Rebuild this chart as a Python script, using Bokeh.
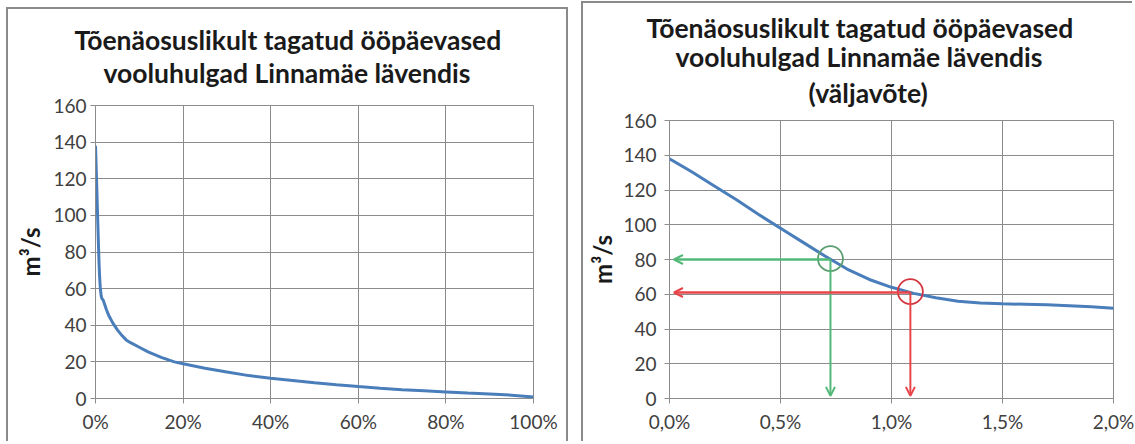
from bokeh.plotting import figure
from bokeh.models import Range1d, FixedTicker, Title, Arrow, OpenHead
from bokeh.layouts import row, column
from bokeh.embed import file_html
from bokeh.resources import INLINE

# ---------------- data ----------------
title_lines_left = ["Tõenäosuslikult tagatud ööpäevased", "vooluhulgad Linnamäe lävendis"]
title_lines_right = ["Tõenäosuslikult tagatud ööpäevased", "vooluhulgad Linnamäe lävendis", "(väljavõte)"]
y_label = "m³/s"

# exceedance probability (%) and daily discharge (m3/s)
prob_pct = [0, 0.1, 0.2, 0.3, 0.4, 0.5, 0.6, 0.7, 0.8, 0.9, 1.0, 1.1, 1.2, 1.3, 1.4,
            1.5, 1.6, 1.7, 1.8, 1.9, 2.0, 2.5, 3, 4, 5, 6, 7, 8, 10, 12, 15, 18, 20,
            25, 30, 35, 40, 45, 50, 55, 60, 65, 70, 75, 80, 85, 90, 95, 100]
discharge = [138, 130.5, 122.5, 114.5, 106, 98, 90, 82, 74.5, 68.5, 64, 60.5, 58, 56, 55,
             54.5, 54.2, 53.9, 53.4, 52.8, 52, 48.5, 45.5, 41, 37.5, 34.5, 32, 30.5, 28, 25.5, 22.5, 20, 19,
             16.5, 14.5, 12.5, 11, 9.8, 8.6, 7.5, 6.5, 5.6, 4.8, 4.2, 3.6, 3.0, 2.5, 1.8, 0.8]

left_x_ticks = [0, 20, 40, 60, 80, 100]
left_x_labels = ["0%", "20%", "40%", "60%", "80%", "100%"]
right_x_ticks = [0, 0.5, 1.0, 1.5, 2.0]
right_x_labels = ["0,0%", "0,5%", "1,0%", "1,5%", "2,0%"]
y_ticks = [0, 20, 40, 60, 80, 100, 120, 140, 160]

# highlighted points (probability %, discharge)
green_point = [0.725, 80]
red_point = [1.085, 61]
arrow_tip_x = 0.02
arrow_tip_y = 1.5

# ---------------- style ----------------
FONT = "Lato"
GRID = "#8c8c8c"
TICK_COLOR = "#404040"
BLUE = "#4A7EBB"
GREEN = "#52b878"
GREEN_DARK = "#5a9e6f"
RED = "#e8454a"
RED_DARK = "#d3373f"


def style(p, xticks, xlabels, label_standoff, axis_label_standoff):
    p.xaxis.ticker = FixedTicker(ticks=xticks)
    p.xaxis.major_label_overrides = {t: l for t, l in zip(xticks, xlabels)}
    p.yaxis.ticker = FixedTicker(ticks=y_ticks)
    for ax in (p.xaxis[0], p.yaxis[0]):
        ax.axis_line_color = GRID
        ax.major_tick_line_color = GRID
        ax.major_tick_out = 5
        ax.major_tick_in = 0
        ax.minor_tick_line_color = None
        ax.major_label_text_font = FONT
        ax.major_label_text_font_size = "19px"
        ax.major_label_text_color = TICK_COLOR
    p.xaxis.major_label_standoff = 6
    p.yaxis.major_label_standoff = label_standoff
    p.yaxis.axis_label = y_label
    p.yaxis.axis_label_text_font = FONT
    p.yaxis.axis_label_text_font_style = "bold"
    p.yaxis.axis_label_text_font_size = "24px"
    p.yaxis.axis_label_text_color = "#1a1a1a"
    p.yaxis.axis_label_standoff = axis_label_standoff
    p.xgrid.grid_line_color = GRID
    p.ygrid.grid_line_color = GRID
    p.outline_line_color = GRID
    p.outline_line_width = 1
    p.background_fill_color = "white"
    p.border_fill_color = "white"


def add_titles(p, lines, standoffs, offsets, size):
    # lines listed top to bottom; added bottom-first so the first line ends on top
    for text, so, off in zip(reversed(lines), standoffs, offsets):
        p.add_layout(Title(text=text, align="left", text_font=FONT, text_font_style="bold",
                           text_font_size=size, text_color="#1a1a1a", standoff=so,
                           offset=off), "above")


# ---------------- left panel ----------------
p1 = figure(width=558, height=434, x_range=Range1d(0, 100), y_range=Range1d(0, 160),
            output_backend="svg", toolbar_location=None,
            min_border_left=87, min_border_right=33, min_border_top=96, min_border_bottom=45,
            margin=(9, 0, 0, 8),
            styles={"box-shadow": "-2px -2px 0 0 #8a8a8a, 2px -2px 0 0 #8a8a8a"})
style(p1, left_x_ticks, left_x_labels, 4, 5)
p1.line(prob_pct, discharge, line_width=3, line_color=BLUE)
add_titles(p1, title_lines_left, [33, -35], [8, -21], "26.5px")

# ---------------- right panel ----------------
p2 = figure(width=551, height=440, x_range=Range1d(0, 2), y_range=Range1d(0, 160),
            output_backend="svg", toolbar_location=None,
            min_border_left=86, min_border_right=21, min_border_top=117, min_border_bottom=45,
            margin=(3, 0, 0, 17),
            styles={"box-shadow": "-2px -2px 0 0 #8a8a8a"})
style(p2, right_x_ticks, right_x_labels, 8, 3)
p2.line(prob_pct, discharge, line_width=3, line_color=BLUE)

for pt, col, ring in ((green_point, GREEN, GREEN_DARK), (red_point, RED, RED_DARK)):
    p2.add_layout(Arrow(end=OpenHead(size=9, line_color=col, line_width=2),
                        x_start=pt[0], y_start=pt[1], x_end=arrow_tip_x, y_end=pt[1],
                        line_color=col, line_width=2.5))
    p2.add_layout(Arrow(end=OpenHead(size=9, line_color=col, line_width=2),
                        x_start=pt[0], y_start=pt[1], x_end=pt[0], y_end=arrow_tip_y,
                        line_color=col, line_width=2))
    p2.scatter([pt[0]], [pt[1] + 0.5], marker="circle", size=25, fill_color=None,
               line_color=ring, line_width=1.8)

add_titles(p2, title_lines_right, [24, -20, 10], [139, 6, -23], "26.5px")

layout = row(column(p1), column(p2), spacing=0)
open("out.html", "w").write(file_html(layout, INLINE))
